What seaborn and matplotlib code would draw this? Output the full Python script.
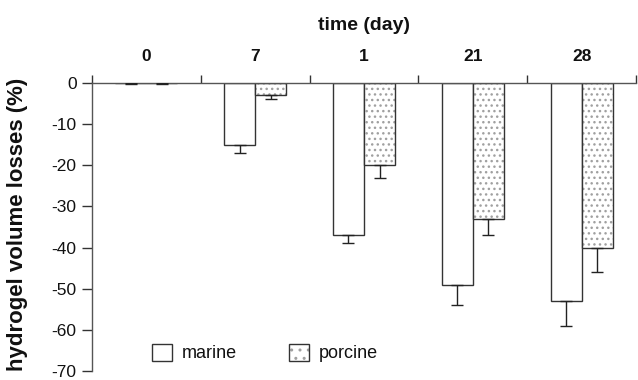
import matplotlib
matplotlib.use("Agg")
import matplotlib.pyplot as plt
import matplotlib.patches as mpatches
from matplotlib.legend_handler import HandlerTuple
import seaborn as sns
import pandas as pd
import numpy as np

categories = ["0", "7", "1", "21", "28"]
marine = [0, -15, -37, -49, -53]
porcine = [0, -3, -20, -33, -40]
marine_err = [0.3, 2, 2, 5, 6]
porcine_err = [0.3, 1, 3, 4, 6]
series = ["marine", "porcine"]
yticks = [0, -10, -20, -30, -40, -50, -60, -70]

sns.set_style("ticks")
plt.rcParams["font.family"] = ["Liberation Sans", "DejaVu Sans"]
plt.rcParams["text.color"] = "#111111"
plt.rcParams["axes.labelcolor"] = "#111111"
plt.rcParams["xtick.labelcolor"] = "#111111"
plt.rcParams["ytick.labelcolor"] = "#111111"

EDGE = "#333333"
DOT = "#a0a0a0"

df = pd.DataFrame({
    "time": categories * 2,
    "value": marine + porcine,
    "err": marine_err + porcine_err,
    "series": [series[0]] * len(categories) + [series[1]] * len(categories),
})

fig = plt.figure(figsize=(6.38, 3.80), dpi=100)
ax = fig.add_axes([92 / 638, 9 / 380, 544 / 638, 288 / 380])

sns.barplot(data=df, x="time", y="value", hue="series", order=categories,
            hue_order=series, palette=["white", "white"], width=0.57,
            errorbar=None, edgecolor=EDGE, linewidth=1.0, legend=False, ax=ax)

# porcine bars: dotted hatch in grey, black outline drawn on top
for patch in ax.containers[1]:
    patch.set_edgecolor(DOT)
    patch.set_hatch("...")
    patch.set_linewidth(0.0)
    outline = mpatches.Rectangle((patch.get_x(), patch.get_y()), patch.get_width(),
                                 patch.get_height(), fill=False, edgecolor=EDGE,
                                 linewidth=1.0, zorder=patch.get_zorder() + 0.1)
    ax.add_patch(outline)

# one-sided (downward) error bars
for cont, s in zip(ax.containers[:2], series):
    sub = df[df["series"] == s].set_index("time").loc[categories]
    xs = [p.get_x() + p.get_width() / 2 for p in cont]
    ax.errorbar(xs, sub["value"].values,
                yerr=[sub["err"].values, np.zeros(len(categories))],
                fmt="none", ecolor="#222222", elinewidth=1.0, capsize=4.5, capthick=1.0,
                zorder=5)

ax.set_ylim(-70, 0)
ax.set_xlim(-0.5, len(categories) - 0.5)
ax.set_yticks(yticks)
ax.set_yticklabels([str(t) for t in yticks], fontsize=12.5)

ax.xaxis.tick_top()
ax.xaxis.set_label_position("top")
ax.set_xticks(range(len(categories)))
ax.set_xticklabels(categories, fontsize=12.5, fontweight="bold")
ax.tick_params(axis="x", which="major", length=0, pad=14)
ax.set_xticks(np.arange(-0.5, len(categories), 1.0), minor=True)
ax.tick_params(axis="x", which="minor", length=6, width=1.0, direction="out",
               top=True, color=EDGE)
ax.tick_params(axis="y", length=7, width=1.0, color=EDGE, pad=4)
ax.set_xlabel("time (day)", fontsize=14, fontweight="bold", labelpad=13)
ax.set_ylabel("hydrogel volume losses (%)", fontsize=16, fontweight="bold")
ax.yaxis.set_label_coords(-0.118, 0.51)

for side in ["right", "bottom"]:
    ax.spines[side].set_visible(False)
for side in ["left", "top"]:
    ax.spines[side].set_color("#555555")
    ax.spines[side].set_linewidth(1.0)

h_marine = mpatches.Rectangle((0, 0), 1, 1, facecolor="white", edgecolor=EDGE, linewidth=1.0)
h_porc_dots = mpatches.Rectangle((0, 0), 1, 1, facecolor="white", edgecolor=DOT,
                                 hatch="..", linewidth=0.0)
h_porc_edge = mpatches.Rectangle((0, 0), 1, 1, fill=False, edgecolor=EDGE, linewidth=1.0)
ax.legend(handles=[h_marine, (h_porc_dots, h_porc_edge)], labels=series,
          handler_map={tuple: HandlerTuple(ndivide=1, pad=0)},
          ncol=2, frameon=False, fontsize=13, loc="center left",
          bbox_to_anchor=(152 / 638, 27 / 380), bbox_transform=fig.transFigure,
          borderpad=0, borderaxespad=0,
          handlelength=1.1, handleheight=1.1, columnspacing=2.9, handletextpad=0.55)

fig.savefig("out.png", dpi=100)
